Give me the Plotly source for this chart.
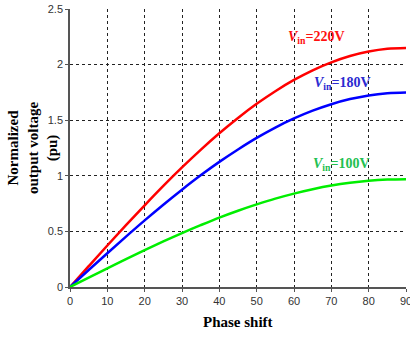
import plotly.graph_objects as go

phase = [0, 5, 10, 15, 20, 25, 30, 35, 40, 45, 50, 55, 60, 65, 70, 75, 80, 85, 90]
v220 = [0, 0.187, 0.373, 0.556, 0.735, 0.909, 1.075, 1.233, 1.382, 1.520, 1.647, 1.761, 1.862, 1.949, 2.020, 2.077, 2.117, 2.142, 2.150]
v180 = [0, 0.153, 0.304, 0.453, 0.599, 0.740, 0.875, 1.004, 1.125, 1.237, 1.341, 1.434, 1.516, 1.586, 1.644, 1.690, 1.723, 1.743, 1.750]
v100 = [0, 0.085, 0.168, 0.251, 0.332, 0.410, 0.485, 0.556, 0.624, 0.686, 0.743, 0.795, 0.840, 0.879, 0.912, 0.937, 0.955, 0.966, 0.970]

series = [
    ("220V", v220, "#ff0000", "#ff1010", 65.9, 2.24),
    ("180V", v180, "#0000ff", "#2a2ad0", 73.1, 1.83),
    ("100V", v100, "#00ee00", "#22c050", 72.6, 1.10),
]

fig = go.Figure()
for name, ys, col, tcol, ax, ay in series:
    fig.add_trace(go.Scatter(x=phase, y=ys, mode="lines", line=dict(color=col, width=2.5, shape="spline"),
                             showlegend=False))
    fig.add_annotation(x=ax, y=ay, xref="x", yref="y", showarrow=False,
                       xanchor="center", yanchor="middle",
                       text=f"<b><i>V</i><sub>in</sub>={name}</b>",
                       font=dict(family="Liberation Serif", size=14, color=tcol))

grid = dict(showgrid=True, gridcolor="#222222", griddash="dot", gridwidth=1,
            showline=True, linecolor="#555555", linewidth=1.5, zeroline=False,
            ticks="outside", ticklen=3, tickcolor="#555555", automargin=False,
            ticklabeloverflow="allow",
            tickfont=dict(family="Liberation Sans", size=11, color="#333333"))

fig.update_xaxes(range=[0, 90], dtick=10, tick0=0, **grid)
fig.update_yaxes(range=[0, 2.5], dtick=0.5, tick0=0, **grid)

fig.add_annotation(x=0.5, y=-0.126, xref="paper", yref="paper", showarrow=False,
                   xanchor="center", yanchor="middle", text="<b>Phase shift</b>",
                   font=dict(family="Liberation Serif", size=15, color="black"))
fig.add_annotation(x=-0.11, y=0.5, xref="paper", yref="paper", showarrow=False,
                   xanchor="center", yanchor="middle", textangle=-90,
                   text="<b>Normalized<br>output voltage<br>(pu)</b>",
                   font=dict(family="Liberation Serif", size=15, color="black"))

fig.update_layout(width=410, height=337, margin=dict(l=70, r=4, t=9, b=50),
                  plot_bgcolor="white", paper_bgcolor="white")

fig.write_html("out.html", config={"displayModeBar": False},
               post_script="document.body.style.margin='0';document.body.style.overflow='hidden';")
